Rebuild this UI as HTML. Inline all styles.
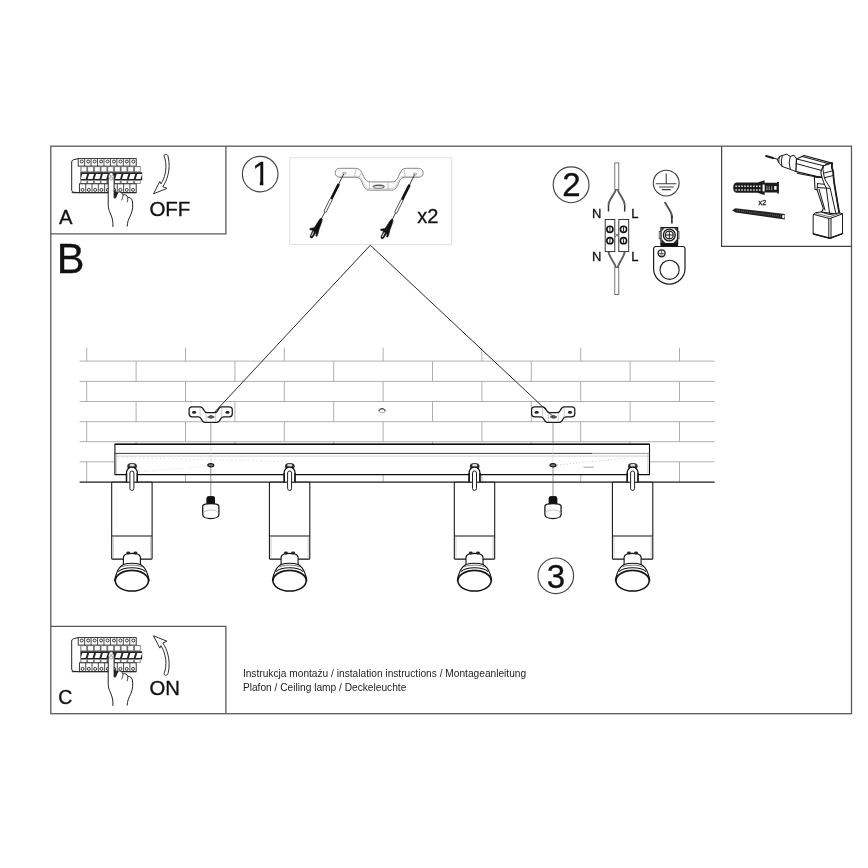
<!DOCTYPE html>
<html lang="pl">
<head>
<meta charset="utf-8">
<title>Instrukcja montażu</title>
<style>
html,body{margin:0;padding:0;background:#fff;}
body{width:868px;height:868px;overflow:hidden;font-family:"Liberation Sans",Arial,sans-serif;}
svg{display:block;will-change:transform;}
</style>
</head>
<body>
<svg width="868" height="868" viewBox="0 0 868 868">
<rect width="868" height="868" fill="#fff"/>
<defs><clipPath id="c1"><path d="M250 158H263.35V188H259.85V170.5H250Z"/></clipPath></defs>
<g fill="none" stroke="#5a5a5a" stroke-width="1.3">
<rect x="50.8" y="146.2" width="800.7" height="567.5"/>
<path d="M50.8 233.8H225.9V146.2"/>
<path d="M50.8 626.3H225.9V713.7"/>
</g>
<path d="M721.6 146.2V246.3H851.5" fill="none" stroke="#444" stroke-width="1.2"/>
<rect x="289.7" y="157.8" width="161.9" height="86.6" fill="none" stroke="#e0e0e0" stroke-width="1"/>
<g fill="none" stroke="#a2a2a2" stroke-width="0.85">
<path d="M79.6 361.1H714.6M79.6 381.4H714.6M79.6 401.5H714.6M79.6 421.7H714.6M79.6 441.7H714.6M79.6 461.8H714.6M86.7 347.7V361.1M185.5 347.7V361.1M284.3 347.7V361.1M383.1 347.7V361.1M481.9 347.7V361.1M580.7 347.7V361.1M679.5 347.7V361.1M136.1 361.1V381.4M234.9 361.1V381.4M333.7 361.1V381.4M432.5 361.1V381.4M531.3 361.1V381.4M630.1 361.1V381.4M86.7 381.4V401.5M185.5 381.4V401.5M284.3 381.4V401.5M383.1 381.4V401.5M481.9 381.4V401.5M580.7 381.4V401.5M679.5 381.4V401.5M136.1 401.5V421.7M234.9 401.5V421.7M333.7 401.5V421.7M432.5 401.5V421.7M531.3 401.5V421.7M630.1 401.5V421.7M86.7 421.7V441.7M185.5 421.7V441.7M284.3 421.7V441.7M383.1 421.7V441.7M481.9 421.7V441.7M580.7 421.7V441.7M679.5 421.7V441.7M136.1 441.7V461.8M234.9 441.7V461.8M333.7 441.7V461.8M432.5 441.7V461.8M531.3 441.7V461.8M630.1 441.7V461.8M86.7 461.8V482.0M185.5 461.8V482.0M284.3 461.8V482.0M383.1 461.8V482.0M481.9 461.8V482.0M580.7 461.8V482.0M679.5 461.8V482.0"/>
</g>
<path d="M79.6 482.2H714.6" stroke="#1c1c1c" stroke-width="1.2" fill="none"/>
<ellipse cx="382" cy="410.7" rx="3.3" ry="2.0" fill="#fff" stroke="#888" stroke-width="0.7"/>
<path d="M378.8 411.0C379.6 408.0 384.4 408.0 385.2 411.0" fill="none" stroke="#222" stroke-width="1.0"/>
<g transform="translate(210.7 0)">
<path d="M-18.6 406.8H-10.6C-8.3 406.8 -7.6 408.4 -6.8 410.2C-6 412 -5.2 412.6 -3.6 412.6H4C5.6 412.6 6.4 412 7.2 410.2C8 408.4 8.7 406.8 11 406.8H18.6A3 3 0 0 1 21.6 409.8V413.8A3 3 0 0 1 18.6 416.8H12.6C10.9 416.8 10.4 417.6 9.7 419.2C9 420.8 8.2 422.3 6.2 422.3H-5.8C-7.8 422.3 -8.6 420.8 -9.3 419.2C-10 417.6 -10.5 416.8 -12.2 416.8H-18.6A3 3 0 0 1 -21.6 413.8V409.8A3 3 0 0 1 -18.6 406.8Z" fill="#fff" stroke="#1a1a1a" stroke-width="1.25"/>
<ellipse cx="-16.6" cy="412.4" rx="2.1" ry="1.3" fill="#222"/>
<ellipse cx="16.8" cy="412.4" rx="2.1" ry="1.3" fill="#222"/>
<path d="M-3.2 417L0.4 415.2L3.8 417L0.4 418.6Z" fill="#555" stroke="#222" stroke-width="0.5"/>
<path d="M-4.6 413V421.8M5 413V421.8M-10.6 407.2V416.6M11 407.2V416.6" stroke="#999" stroke-width="0.5" fill="none"/>
</g>
<g transform="translate(553.2 0)">
<path d="M-18.6 406.8H-10.6C-8.3 406.8 -7.6 408.4 -6.8 410.2C-6 412 -5.2 412.6 -3.6 412.6H4C5.6 412.6 6.4 412 7.2 410.2C8 408.4 8.7 406.8 11 406.8H18.6A3 3 0 0 1 21.6 409.8V413.8A3 3 0 0 1 18.6 416.8H12.6C10.9 416.8 10.4 417.6 9.7 419.2C9 420.8 8.2 422.3 6.2 422.3H-5.8C-7.8 422.3 -8.6 420.8 -9.3 419.2C-10 417.6 -10.5 416.8 -12.2 416.8H-18.6A3 3 0 0 1 -21.6 413.8V409.8A3 3 0 0 1 -18.6 406.8Z" fill="#fff" stroke="#1a1a1a" stroke-width="1.25"/>
<ellipse cx="-16.6" cy="412.4" rx="2.1" ry="1.3" fill="#222"/>
<ellipse cx="16.8" cy="412.4" rx="2.1" ry="1.3" fill="#222"/>
<path d="M-3.2 417L0.4 415.2L3.8 417L0.4 418.6Z" fill="#555" stroke="#222" stroke-width="0.5"/>
<path d="M-4.6 413V421.8M5 413V421.8M-10.6 407.2V416.6M11 407.2V416.6" stroke="#999" stroke-width="0.5" fill="none"/>
</g>
<path d="M214.6 412.2L370.3 245.2L553.0 416.4" fill="none" stroke="#2a2a2a" stroke-width="1.0"/>
<rect x="114.9" y="444.3" width="534.6" height="30.2" rx="0.8" fill="#fff" stroke="#111" stroke-width="1.1"/>
<path d="M114.6 444.3H649.8" stroke="#111" stroke-width="1.55" fill="none"/>
<path d="M114.6 474.5H649.8" stroke="#111" stroke-width="1.25" fill="none"/>
<path d="M115 453.4H592.5" stroke="#3a3a3a" stroke-width="1.0" fill="none"/>
<path d="M592.5 453.4H649.4" stroke="#8c8c8c" stroke-width="0.9" fill="none"/>
<path d="M583.5 467.2H594" stroke="#9a9a9a" stroke-width="0.9" fill="none"/>
<path d="M557 465.0L630 457.7" stroke="#b4b4b4" stroke-width="0.8" stroke-dasharray="1 2.2" fill="none"/>
<path d="M115.4 456.1H649" stroke="#c0c0c0" stroke-width="0.7" fill="none"/>
<path d="M116.6 454V474M647.9 454V474" stroke="#bbb" stroke-width="0.7" fill="none"/>
<path d="M118 457.6L290 461.6" stroke="#c4c4c4" stroke-width="0.7" stroke-dasharray="1 3.2" fill="none"/>
<path d="M139 472.0L209 466.2" stroke="#d2d2d2" stroke-width="0.7" stroke-dasharray="1 1.6" fill="none"/>
<g transform="translate(210.8 0)">
<path d="M0 422.4V444" stroke="#777" stroke-width="0.7" fill="none"/>
<path d="M0 445V464" stroke="#ccc" stroke-width="0.6" fill="none"/>
<path d="M0 466V496.8" stroke="#555" stroke-width="0.65" fill="none"/>
<ellipse cx="0" cy="465.2" rx="3.0" ry="1.6" fill="#777" stroke="#1a1a1a" stroke-width="1.2"/>
<path d="M-4.2 503.8V498.6Q-4.2 496.2 -1.8 496.2H1.8Q4.2 496.2 4.2 498.6V503.8Z" fill="#111"/>
<path d="M-8.1 506.2V514.4C-8.1 520 8.1 520 8.1 514.4V506.2C8.1 502.6 -8.1 502.6 -8.1 506.2Z" fill="#fff" stroke="#111" stroke-width="1.25"/>
<path d="M-7.6 513.6C-7.6 508.8 7.6 508.8 7.6 513.6" fill="none" stroke="#aaa" stroke-width="0.7"/>
<path d="M-4.2 503.6V498.6Q-4.2 496.2 -1.8 496.2H1.8Q4.2 496.2 4.2 498.6V503.6Z" fill="#111"/>
</g>
<g transform="translate(553.0 0)">
<path d="M0 422.4V444" stroke="#777" stroke-width="0.7" fill="none"/>
<path d="M0 445V464" stroke="#ccc" stroke-width="0.6" fill="none"/>
<path d="M0 466V496.8" stroke="#555" stroke-width="0.65" fill="none"/>
<ellipse cx="0" cy="465.2" rx="3.0" ry="1.6" fill="#777" stroke="#1a1a1a" stroke-width="1.2"/>
<path d="M-4.2 503.8V498.6Q-4.2 496.2 -1.8 496.2H1.8Q4.2 496.2 4.2 498.6V503.8Z" fill="#111"/>
<path d="M-8.1 506.2V514.4C-8.1 520 8.1 520 8.1 514.4V506.2C8.1 502.6 -8.1 502.6 -8.1 506.2Z" fill="#fff" stroke="#111" stroke-width="1.25"/>
<path d="M-7.6 513.6C-7.6 508.8 7.6 508.8 7.6 513.6" fill="none" stroke="#aaa" stroke-width="0.7"/>
<path d="M-4.2 503.6V498.6Q-4.2 496.2 -1.8 496.2H1.8Q4.2 496.2 4.2 498.6V503.6Z" fill="#111"/>
</g>
<g transform="translate(131.9 0)">
<ellipse cx="0.2" cy="466.3" rx="4.8" ry="3.3" fill="#2c2c2c"/>
<ellipse cx="0.2" cy="465.3" rx="2.7" ry="1.5" fill="#d8d8d8"/>
<path d="M-5.4 481.8V472.6A5.4 5.4 0 0 1 5.4 472.6V481.8" fill="#fff" stroke="#111" stroke-width="1.25"/>
<rect x="-20.2" y="482.2" width="40.4" height="76.9" rx="0.6" fill="#fff" stroke="#111" stroke-width="1.05"/>
<path d="M-20.2 536.0H20.2" stroke="#111" stroke-width="1" fill="none"/>
<path d="M-18.6 536.6V558.4M18.6 536.6V558.4" stroke="#bdbdbd" stroke-width="0.8" fill="none"/>
<path d="M-2.0 488.4V473.0A2.0 2.0 0 0 1 2.0 473.0V488.4A2.0 2.0 0 0 1 -2.0 488.4Z" fill="#fff" stroke="#222" stroke-width="1.0"/>
<path d="M-5.4 473V482.4M5.4 473V482.4" stroke="#111" stroke-width="1.25" fill="none"/>
<path d="M-8.5 566V557.6C-8.5 555.4 -6.8 554.4 -5.4 554.0C-2.6 553.3 2.6 553.3 5.4 554.0C6.8 554.4 8.5 555.4 8.5 557.6V566Z" fill="#fff" stroke="#111" stroke-width="1.1"/>
<ellipse cx="-3.7" cy="553.0" rx="2.0" ry="1.4" fill="#222"/>
<ellipse cx="3.5" cy="553.0" rx="2.0" ry="1.4" fill="#222"/>
<path d="M-8.5 564.4C-11.5 566 -14 569.5 -15.2 573C-16.2 575.5 -17 578 -17.2 580.8H17.2C17 578 16.2 575.5 15.2 573C14 569.5 11.5 566 8.5 564.4C4 562.9 -4 562.9 -8.5 564.4Z" fill="#fff" stroke="#111" stroke-width="1.1"/>
<path d="M-10.2 566.8C-5 564.6 5 564.6 10.2 566.8" fill="none" stroke="#444" stroke-width="0.7"/>
<path d="M-13.6 571.6C-8 566.4 8 566.4 13.6 571.6" fill="none" stroke="#111" stroke-width="1.1"/>
<path d="M-17.2 580C-15.2 566.6 15.2 566.6 17.2 580C14.4 568.9 -14.4 568.9 -17.2 580Z" fill="#1c1c1c" stroke="#1c1c1c" stroke-width="0.4"/>
<ellipse cx="0" cy="580.8" rx="16.6" ry="10.3" fill="#fff" stroke="#111" stroke-width="1.5"/>
</g>
<g transform="translate(289.6 0)">
<ellipse cx="0.2" cy="466.3" rx="4.8" ry="3.3" fill="#2c2c2c"/>
<ellipse cx="0.2" cy="465.3" rx="2.7" ry="1.5" fill="#d8d8d8"/>
<path d="M-5.4 481.8V472.6A5.4 5.4 0 0 1 5.4 472.6V481.8" fill="#fff" stroke="#111" stroke-width="1.25"/>
<rect x="-20.2" y="482.2" width="40.4" height="76.9" rx="0.6" fill="#fff" stroke="#111" stroke-width="1.05"/>
<path d="M-20.2 536.0H20.2" stroke="#111" stroke-width="1" fill="none"/>
<path d="M-18.6 536.6V558.4M18.6 536.6V558.4" stroke="#bdbdbd" stroke-width="0.8" fill="none"/>
<path d="M-2.0 488.4V473.0A2.0 2.0 0 0 1 2.0 473.0V488.4A2.0 2.0 0 0 1 -2.0 488.4Z" fill="#fff" stroke="#222" stroke-width="1.0"/>
<path d="M-5.4 473V482.4M5.4 473V482.4" stroke="#111" stroke-width="1.25" fill="none"/>
<path d="M-8.5 566V557.6C-8.5 555.4 -6.8 554.4 -5.4 554.0C-2.6 553.3 2.6 553.3 5.4 554.0C6.8 554.4 8.5 555.4 8.5 557.6V566Z" fill="#fff" stroke="#111" stroke-width="1.1"/>
<ellipse cx="-3.7" cy="553.0" rx="2.0" ry="1.4" fill="#222"/>
<ellipse cx="3.5" cy="553.0" rx="2.0" ry="1.4" fill="#222"/>
<path d="M-8.5 564.4C-11.5 566 -14 569.5 -15.2 573C-16.2 575.5 -17 578 -17.2 580.8H17.2C17 578 16.2 575.5 15.2 573C14 569.5 11.5 566 8.5 564.4C4 562.9 -4 562.9 -8.5 564.4Z" fill="#fff" stroke="#111" stroke-width="1.1"/>
<path d="M-10.2 566.8C-5 564.6 5 564.6 10.2 566.8" fill="none" stroke="#444" stroke-width="0.7"/>
<path d="M-13.6 571.6C-8 566.4 8 566.4 13.6 571.6" fill="none" stroke="#111" stroke-width="1.1"/>
<path d="M-17.2 580C-15.2 566.6 15.2 566.6 17.2 580C14.4 568.9 -14.4 568.9 -17.2 580Z" fill="#1c1c1c" stroke="#1c1c1c" stroke-width="0.4"/>
<ellipse cx="0" cy="580.8" rx="16.6" ry="10.3" fill="#fff" stroke="#111" stroke-width="1.5"/>
</g>
<g transform="translate(474.5 0)">
<ellipse cx="0.2" cy="466.3" rx="4.8" ry="3.3" fill="#2c2c2c"/>
<ellipse cx="0.2" cy="465.3" rx="2.7" ry="1.5" fill="#d8d8d8"/>
<path d="M-5.4 481.8V472.6A5.4 5.4 0 0 1 5.4 472.6V481.8" fill="#fff" stroke="#111" stroke-width="1.25"/>
<rect x="-20.2" y="482.2" width="40.4" height="76.9" rx="0.6" fill="#fff" stroke="#111" stroke-width="1.05"/>
<path d="M-20.2 536.0H20.2" stroke="#111" stroke-width="1" fill="none"/>
<path d="M-18.6 536.6V558.4M18.6 536.6V558.4" stroke="#bdbdbd" stroke-width="0.8" fill="none"/>
<path d="M-2.0 488.4V473.0A2.0 2.0 0 0 1 2.0 473.0V488.4A2.0 2.0 0 0 1 -2.0 488.4Z" fill="#fff" stroke="#222" stroke-width="1.0"/>
<path d="M-5.4 473V482.4M5.4 473V482.4" stroke="#111" stroke-width="1.25" fill="none"/>
<path d="M-8.5 566V557.6C-8.5 555.4 -6.8 554.4 -5.4 554.0C-2.6 553.3 2.6 553.3 5.4 554.0C6.8 554.4 8.5 555.4 8.5 557.6V566Z" fill="#fff" stroke="#111" stroke-width="1.1"/>
<ellipse cx="-3.7" cy="553.0" rx="2.0" ry="1.4" fill="#222"/>
<ellipse cx="3.5" cy="553.0" rx="2.0" ry="1.4" fill="#222"/>
<path d="M-8.5 564.4C-11.5 566 -14 569.5 -15.2 573C-16.2 575.5 -17 578 -17.2 580.8H17.2C17 578 16.2 575.5 15.2 573C14 569.5 11.5 566 8.5 564.4C4 562.9 -4 562.9 -8.5 564.4Z" fill="#fff" stroke="#111" stroke-width="1.1"/>
<path d="M-10.2 566.8C-5 564.6 5 564.6 10.2 566.8" fill="none" stroke="#444" stroke-width="0.7"/>
<path d="M-13.6 571.6C-8 566.4 8 566.4 13.6 571.6" fill="none" stroke="#111" stroke-width="1.1"/>
<path d="M-17.2 580C-15.2 566.6 15.2 566.6 17.2 580C14.4 568.9 -14.4 568.9 -17.2 580Z" fill="#1c1c1c" stroke="#1c1c1c" stroke-width="0.4"/>
<ellipse cx="0" cy="580.8" rx="16.6" ry="10.3" fill="#fff" stroke="#111" stroke-width="1.5"/>
</g>
<g transform="translate(632.6 0)">
<ellipse cx="0.2" cy="466.3" rx="4.8" ry="3.3" fill="#2c2c2c"/>
<ellipse cx="0.2" cy="465.3" rx="2.7" ry="1.5" fill="#d8d8d8"/>
<path d="M-5.4 481.8V472.6A5.4 5.4 0 0 1 5.4 472.6V481.8" fill="#fff" stroke="#111" stroke-width="1.25"/>
<rect x="-20.2" y="482.2" width="40.4" height="76.9" rx="0.6" fill="#fff" stroke="#111" stroke-width="1.05"/>
<path d="M-20.2 536.0H20.2" stroke="#111" stroke-width="1" fill="none"/>
<path d="M-18.6 536.6V558.4M18.6 536.6V558.4" stroke="#bdbdbd" stroke-width="0.8" fill="none"/>
<path d="M-2.0 488.4V473.0A2.0 2.0 0 0 1 2.0 473.0V488.4A2.0 2.0 0 0 1 -2.0 488.4Z" fill="#fff" stroke="#222" stroke-width="1.0"/>
<path d="M-5.4 473V482.4M5.4 473V482.4" stroke="#111" stroke-width="1.25" fill="none"/>
<path d="M-8.5 566V557.6C-8.5 555.4 -6.8 554.4 -5.4 554.0C-2.6 553.3 2.6 553.3 5.4 554.0C6.8 554.4 8.5 555.4 8.5 557.6V566Z" fill="#fff" stroke="#111" stroke-width="1.1"/>
<ellipse cx="-3.7" cy="553.0" rx="2.0" ry="1.4" fill="#222"/>
<ellipse cx="3.5" cy="553.0" rx="2.0" ry="1.4" fill="#222"/>
<path d="M-8.5 564.4C-11.5 566 -14 569.5 -15.2 573C-16.2 575.5 -17 578 -17.2 580.8H17.2C17 578 16.2 575.5 15.2 573C14 569.5 11.5 566 8.5 564.4C4 562.9 -4 562.9 -8.5 564.4Z" fill="#fff" stroke="#111" stroke-width="1.1"/>
<path d="M-10.2 566.8C-5 564.6 5 564.6 10.2 566.8" fill="none" stroke="#444" stroke-width="0.7"/>
<path d="M-13.6 571.6C-8 566.4 8 566.4 13.6 571.6" fill="none" stroke="#111" stroke-width="1.1"/>
<path d="M-17.2 580C-15.2 566.6 15.2 566.6 17.2 580C14.4 568.9 -14.4 568.9 -17.2 580Z" fill="#1c1c1c" stroke="#1c1c1c" stroke-width="0.4"/>
<ellipse cx="0" cy="580.8" rx="16.6" ry="10.3" fill="#fff" stroke="#111" stroke-width="1.5"/>
</g>
<g transform="translate(0 0.6)">
<path d="M78.2 158.0L73.4 159.2Q71.7 159.7 71.7 161.4V189.6Q71.7 191.2 73.4 191.6L78.6 192.1" fill="#fff" stroke="#222" stroke-width="1.0"/>
<rect x="78.2" y="158.0" width="58.0" height="7.5" fill="#fff" stroke="#222" stroke-width="0.9"/>
<path d="M84.64 158V165.5M91.09 158V165.5M97.53 158V165.5M103.98 158V165.5M110.42 158V165.5M116.87 158V165.5M123.31 158V165.5M129.76 158V165.5" stroke="#222" stroke-width="0.8" fill="none"/>
<circle cx="81.74" cy="160.9" r="1.5" fill="#fff" stroke="#222" stroke-width="0.9"/>
<circle cx="88.19" cy="160.9" r="1.5" fill="#fff" stroke="#222" stroke-width="0.9"/>
<circle cx="94.63" cy="160.9" r="1.5" fill="#fff" stroke="#222" stroke-width="0.9"/>
<circle cx="101.08" cy="160.9" r="1.5" fill="#fff" stroke="#222" stroke-width="0.9"/>
<circle cx="107.52" cy="160.9" r="1.5" fill="#fff" stroke="#222" stroke-width="0.9"/>
<circle cx="113.97" cy="160.9" r="1.5" fill="#fff" stroke="#222" stroke-width="0.9"/>
<circle cx="120.41" cy="160.9" r="1.5" fill="#fff" stroke="#222" stroke-width="0.9"/>
<circle cx="126.86" cy="160.9" r="1.5" fill="#fff" stroke="#222" stroke-width="0.9"/>
<circle cx="133.30" cy="160.9" r="1.5" fill="#fff" stroke="#222" stroke-width="0.9"/>
<rect x="80.4" y="165.5" width="60.2" height="6.4" fill="#6e6e6e"/>
<rect x="81.40" y="166.5" width="4.99" height="4.3" fill="#fff"/>
<rect x="88.09" y="166.5" width="4.99" height="4.3" fill="#fff"/>
<rect x="94.78" y="166.5" width="4.99" height="4.3" fill="#fff"/>
<rect x="101.47" y="166.5" width="4.99" height="4.3" fill="#fff"/>
<rect x="108.16" y="166.5" width="4.99" height="4.3" fill="#fff"/>
<rect x="114.84" y="166.5" width="4.99" height="4.3" fill="#fff"/>
<rect x="121.53" y="166.5" width="4.99" height="4.3" fill="#fff"/>
<rect x="128.22" y="166.5" width="4.99" height="4.3" fill="#fff"/>
<rect x="134.91" y="166.5" width="4.99" height="4.3" fill="#fff"/>
<rect x="80.4" y="171.7" width="61.8" height="8.0" fill="#242424"/>
<path d="M82.30 173.3H87.17L85.67 178.3H80.80Z" fill="#fff"/>
<path d="M89.17 173.3H94.03L92.53 178.3H87.67Z" fill="#fff"/>
<path d="M96.03 173.3H100.90L99.40 178.3H94.53Z" fill="#fff"/>
<path d="M102.90 173.3H107.77L106.27 178.3H101.40Z" fill="#fff"/>
<path d="M116.63 173.3H121.50L120.00 178.3H115.13Z" fill="#fff"/>
<path d="M123.50 173.3H128.37L126.87 178.3H122.00Z" fill="#fff"/>
<path d="M130.37 173.3H135.23L133.73 178.3H128.87Z" fill="#fff"/>
<path d="M137.23 173.3H142.10L140.60 178.3H135.73Z" fill="#fff"/>
<rect x="80.4" y="179.8" width="60.2" height="3.4" fill="#6e6e6e"/>
<rect x="81.40" y="180.4" width="4.99" height="2.1" fill="#fff"/>
<rect x="88.09" y="180.4" width="4.99" height="2.1" fill="#fff"/>
<rect x="94.78" y="180.4" width="4.99" height="2.1" fill="#fff"/>
<rect x="101.47" y="180.4" width="4.99" height="2.1" fill="#fff"/>
<rect x="108.16" y="180.4" width="4.99" height="2.1" fill="#fff"/>
<rect x="114.84" y="180.4" width="4.99" height="2.1" fill="#fff"/>
<rect x="121.53" y="180.4" width="4.99" height="2.1" fill="#fff"/>
<rect x="128.22" y="180.4" width="4.99" height="2.1" fill="#fff"/>
<rect x="134.91" y="180.4" width="4.99" height="2.1" fill="#fff"/>
<rect x="79.4" y="183.2" width="56.8" height="8.9" fill="#fff" stroke="#222" stroke-width="0.9"/>
<path d="M85.71 183.2V192.1M92.02 183.2V192.1M98.33 183.2V192.1M104.64 183.2V192.1M110.96 183.2V192.1M117.27 183.2V192.1M123.58 183.2V192.1M129.89 183.2V192.1" stroke="#222" stroke-width="0.8" fill="none"/>
<circle cx="82.56" cy="189.3" r="1.5" fill="#fff" stroke="#222" stroke-width="0.9"/>
<circle cx="88.87" cy="189.3" r="1.5" fill="#fff" stroke="#222" stroke-width="0.9"/>
<circle cx="95.18" cy="189.3" r="1.5" fill="#fff" stroke="#222" stroke-width="0.9"/>
<circle cx="101.49" cy="189.3" r="1.5" fill="#fff" stroke="#222" stroke-width="0.9"/>
<circle cx="107.80" cy="189.3" r="1.5" fill="#fff" stroke="#222" stroke-width="0.9"/>
<circle cx="114.11" cy="189.3" r="1.5" fill="#fff" stroke="#222" stroke-width="0.9"/>
<circle cx="120.42" cy="189.3" r="1.5" fill="#fff" stroke="#222" stroke-width="0.9"/>
<circle cx="126.73" cy="189.3" r="1.5" fill="#fff" stroke="#222" stroke-width="0.9"/>
<circle cx="133.04" cy="189.3" r="1.5" fill="#fff" stroke="#222" stroke-width="0.9"/>
<path d="M71.7 192.1H136.2" stroke="#222" stroke-width="1" fill="none"/>
<path d="M112.9 226.3C113.2 221 112.4 217.6 110.6 213.4C108.9 209.6 108.2 207.6 108.2 203.6V175.6C108.2 171.2 114.1 171.2 114.1 175.6V197.2L115.4 197.6L117.9 191.8C119.6 190.6 122.2 191.8 123.1 194.4C125 193.6 127.2 194.6 127.7 196.9C129.8 196.4 131.8 197.8 132.3 200.2C133.2 204.6 132.8 209.4 130.8 214C128.6 218.8 127.2 221.6 127.2 225.9" fill="#fff" stroke="none"/>
<path d="M112.9 226.3C113.2 221 112.4 217.6 110.6 213.4C108.9 209.6 108.2 207.6 108.2 203.6V175.6C108.2 171.2 114.1 171.2 114.1 175.6V197.2L115.4 197.6L117.9 191.8C119.6 190.6 122.2 191.8 123.1 194.4C125 193.6 127.2 194.6 127.7 196.9C129.8 196.4 131.8 197.8 132.3 200.2C133.2 204.6 132.8 209.4 130.8 214C128.6 218.8 127.2 221.6 127.2 225.9" fill="none" stroke="#222" stroke-width="1.0"/>
<path d="M114.1 189.6V197.2L115.4 197.6L117.9 191.8Z" fill="#222"/>
<path d="M123.1 194.4C122.9 196.4 122.3 198.2 121.6 199.8M127.7 196.9C127.9 198.6 127.7 200.2 127.2 201.6" fill="none" stroke="#222" stroke-width="0.8"/>
<circle cx="111.2" cy="173.8" r="1.6" fill="#fff" stroke="#555" stroke-width="0.5"/>
<circle cx="111.2" cy="177.9" r="1.6" fill="#fff" stroke="#555" stroke-width="0.5"/>
</g>
<g transform="translate(0 479.6)">
<path d="M78.2 158.0L73.4 159.2Q71.7 159.7 71.7 161.4V189.6Q71.7 191.2 73.4 191.6L78.6 192.1" fill="#fff" stroke="#222" stroke-width="1.0"/>
<rect x="78.2" y="158.0" width="58.0" height="7.5" fill="#fff" stroke="#222" stroke-width="0.9"/>
<path d="M84.64 158V165.5M91.09 158V165.5M97.53 158V165.5M103.98 158V165.5M110.42 158V165.5M116.87 158V165.5M123.31 158V165.5M129.76 158V165.5" stroke="#222" stroke-width="0.8" fill="none"/>
<circle cx="81.74" cy="160.9" r="1.5" fill="#fff" stroke="#222" stroke-width="0.9"/>
<circle cx="88.19" cy="160.9" r="1.5" fill="#fff" stroke="#222" stroke-width="0.9"/>
<circle cx="94.63" cy="160.9" r="1.5" fill="#fff" stroke="#222" stroke-width="0.9"/>
<circle cx="101.08" cy="160.9" r="1.5" fill="#fff" stroke="#222" stroke-width="0.9"/>
<circle cx="107.52" cy="160.9" r="1.5" fill="#fff" stroke="#222" stroke-width="0.9"/>
<circle cx="113.97" cy="160.9" r="1.5" fill="#fff" stroke="#222" stroke-width="0.9"/>
<circle cx="120.41" cy="160.9" r="1.5" fill="#fff" stroke="#222" stroke-width="0.9"/>
<circle cx="126.86" cy="160.9" r="1.5" fill="#fff" stroke="#222" stroke-width="0.9"/>
<circle cx="133.30" cy="160.9" r="1.5" fill="#fff" stroke="#222" stroke-width="0.9"/>
<rect x="80.4" y="165.5" width="60.2" height="6.4" fill="#6e6e6e"/>
<rect x="81.40" y="166.5" width="4.99" height="4.3" fill="#fff"/>
<rect x="88.09" y="166.5" width="4.99" height="4.3" fill="#fff"/>
<rect x="94.78" y="166.5" width="4.99" height="4.3" fill="#fff"/>
<rect x="101.47" y="166.5" width="4.99" height="4.3" fill="#fff"/>
<rect x="108.16" y="166.5" width="4.99" height="4.3" fill="#fff"/>
<rect x="114.84" y="166.5" width="4.99" height="4.3" fill="#fff"/>
<rect x="121.53" y="166.5" width="4.99" height="4.3" fill="#fff"/>
<rect x="128.22" y="166.5" width="4.99" height="4.3" fill="#fff"/>
<rect x="134.91" y="166.5" width="4.99" height="4.3" fill="#fff"/>
<rect x="80.4" y="171.7" width="61.8" height="8.0" fill="#242424"/>
<path d="M82.30 173.3H87.17L85.67 178.3H80.80Z" fill="#fff"/>
<path d="M89.17 173.3H94.03L92.53 178.3H87.67Z" fill="#fff"/>
<path d="M96.03 173.3H100.90L99.40 178.3H94.53Z" fill="#fff"/>
<path d="M102.90 173.3H107.77L106.27 178.3H101.40Z" fill="#fff"/>
<path d="M116.63 173.3H121.50L120.00 178.3H115.13Z" fill="#fff"/>
<path d="M123.50 173.3H128.37L126.87 178.3H122.00Z" fill="#fff"/>
<path d="M130.37 173.3H135.23L133.73 178.3H128.87Z" fill="#fff"/>
<path d="M137.23 173.3H142.10L140.60 178.3H135.73Z" fill="#fff"/>
<rect x="80.4" y="179.8" width="60.2" height="3.4" fill="#6e6e6e"/>
<rect x="81.40" y="180.4" width="4.99" height="2.1" fill="#fff"/>
<rect x="88.09" y="180.4" width="4.99" height="2.1" fill="#fff"/>
<rect x="94.78" y="180.4" width="4.99" height="2.1" fill="#fff"/>
<rect x="101.47" y="180.4" width="4.99" height="2.1" fill="#fff"/>
<rect x="108.16" y="180.4" width="4.99" height="2.1" fill="#fff"/>
<rect x="114.84" y="180.4" width="4.99" height="2.1" fill="#fff"/>
<rect x="121.53" y="180.4" width="4.99" height="2.1" fill="#fff"/>
<rect x="128.22" y="180.4" width="4.99" height="2.1" fill="#fff"/>
<rect x="134.91" y="180.4" width="4.99" height="2.1" fill="#fff"/>
<rect x="79.4" y="183.2" width="56.8" height="8.9" fill="#fff" stroke="#222" stroke-width="0.9"/>
<path d="M85.71 183.2V192.1M92.02 183.2V192.1M98.33 183.2V192.1M104.64 183.2V192.1M110.96 183.2V192.1M117.27 183.2V192.1M123.58 183.2V192.1M129.89 183.2V192.1" stroke="#222" stroke-width="0.8" fill="none"/>
<circle cx="82.56" cy="189.3" r="1.5" fill="#fff" stroke="#222" stroke-width="0.9"/>
<circle cx="88.87" cy="189.3" r="1.5" fill="#fff" stroke="#222" stroke-width="0.9"/>
<circle cx="95.18" cy="189.3" r="1.5" fill="#fff" stroke="#222" stroke-width="0.9"/>
<circle cx="101.49" cy="189.3" r="1.5" fill="#fff" stroke="#222" stroke-width="0.9"/>
<circle cx="107.80" cy="189.3" r="1.5" fill="#fff" stroke="#222" stroke-width="0.9"/>
<circle cx="114.11" cy="189.3" r="1.5" fill="#fff" stroke="#222" stroke-width="0.9"/>
<circle cx="120.42" cy="189.3" r="1.5" fill="#fff" stroke="#222" stroke-width="0.9"/>
<circle cx="126.73" cy="189.3" r="1.5" fill="#fff" stroke="#222" stroke-width="0.9"/>
<circle cx="133.04" cy="189.3" r="1.5" fill="#fff" stroke="#222" stroke-width="0.9"/>
<path d="M71.7 192.1H136.2" stroke="#222" stroke-width="1" fill="none"/>
<path d="M112.9 226.3C113.2 221 112.4 217.6 110.6 213.4C108.9 209.6 108.2 207.6 108.2 203.6V175.6C108.2 171.2 114.1 171.2 114.1 175.6V197.2L115.4 197.6L117.9 191.8C119.6 190.6 122.2 191.8 123.1 194.4C125 193.6 127.2 194.6 127.7 196.9C129.8 196.4 131.8 197.8 132.3 200.2C133.2 204.6 132.8 209.4 130.8 214C128.6 218.8 127.2 221.6 127.2 225.9" fill="#fff" stroke="none"/>
<path d="M112.9 226.3C113.2 221 112.4 217.6 110.6 213.4C108.9 209.6 108.2 207.6 108.2 203.6V175.6C108.2 171.2 114.1 171.2 114.1 175.6V197.2L115.4 197.6L117.9 191.8C119.6 190.6 122.2 191.8 123.1 194.4C125 193.6 127.2 194.6 127.7 196.9C129.8 196.4 131.8 197.8 132.3 200.2C133.2 204.6 132.8 209.4 130.8 214C128.6 218.8 127.2 221.6 127.2 225.9" fill="none" stroke="#222" stroke-width="1.0"/>
<path d="M114.1 189.6V197.2L115.4 197.6L117.9 191.8Z" fill="#222"/>
<path d="M123.1 194.4C122.9 196.4 122.3 198.2 121.6 199.8M127.7 196.9C127.9 198.6 127.7 200.2 127.2 201.6" fill="none" stroke="#222" stroke-width="0.8"/>
<circle cx="111.2" cy="173.8" r="1.6" fill="#fff" stroke="#555" stroke-width="0.5"/>
<circle cx="111.2" cy="177.9" r="1.6" fill="#fff" stroke="#555" stroke-width="0.5"/>
</g>
<path d="M165.3 154.3C167 154.1 167.9 155.2 168.2 156.8C169.6 163.4 169.4 169.6 167.8 175.4C166.8 179.4 165.2 183 162.8 186.6L166.9 188.4L153.5 193.8L159.8 181.5L161 183.9C163 180.6 164.2 177.6 165 174.2C166.3 168.8 166.3 163.6 164.9 158.6C164.4 156.8 163.2 154.8 165.3 154.3Z" fill="#fff" stroke="#2e2e2e" stroke-width="1.0" stroke-linejoin="miter"/>
<g transform="translate(0 829.6) scale(1 -1)"><path d="M165.3 154.3C167 154.1 167.9 155.2 168.2 156.8C169.6 163.4 169.4 169.6 167.8 175.4C166.8 179.4 165.2 183 162.8 186.6L166.9 188.4L153.5 193.8L159.8 181.5L161 183.9C163 180.6 164.2 177.6 165 174.2C166.3 168.8 166.3 163.6 164.9 158.6C164.4 156.8 163.2 154.8 165.3 154.3Z" fill="#fff" stroke="#2e2e2e" stroke-width="1.0"/></g>
<g fill="none" stroke="#7c7c7c" stroke-width="0.9" stroke-linejoin="round">
<path d="M339.8 168.3H355.2C359.2 168.3 360.6 170.2 362.2 173.4C364.2 177.6 365.8 181.9 370.4 181.9H392.2C396.6 181.9 397.8 177.8 399.6 174C401.2 170.4 402.6 168.3 406.2 168.3H418.6C421.6 168.3 423.2 170.4 423.2 172.8C423.2 175.2 421.6 177.3 418.6 177.3H405C402 177.3 401 178.4 399.8 180.6C398 184 396.8 190.2 391.6 190.2H369.6C364.4 190.2 363.2 184.6 361.4 181C360 178.4 359 177.3 356.2 177.3H339.8C336.8 177.3 335.2 175.2 335.2 172.8C335.2 170.4 336.8 168.3 339.8 168.3Z" fill="#fbfbfb"/>
<path d="M337 175.8C338 176.6 339 176.4 340.6 176.4H356.6C359.4 176.4 360.8 177.2 362.2 179.8C364 183.2 365.2 188.6 369.8 188.6H391.4C396 188.6 397 183.6 398.8 180C400.2 177.2 401.4 176.4 404.2 176.4H418.2C419.8 176.4 420.8 176.6 421.8 175.8" stroke="#b5b5b5" stroke-width="0.6"/>
<path d="M356.2 168.6L354.4 177.2M361.4 172.2L358.6 178.4M369.4 181.9V190M388.1 181.9V190M397.4 178.4L400.4 172.4M403.8 168.8L405.4 177.2" stroke="#a5a5a5" stroke-width="0.6"/>
<ellipse cx="378.7" cy="186.6" rx="5.8" ry="1.7" stroke="#666"/>
<path d="M373.6 186.2C375.6 185.4 381.8 185.4 383.8 186.2" stroke="#333" stroke-width="0.9"/>
<ellipse cx="344.4" cy="173.2" rx="1.9" ry="0.9" stroke="#777" stroke-width="0.6"/>
<ellipse cx="415.0" cy="174.0" rx="1.9" ry="0.9" stroke="#777" stroke-width="0.6"/>
</g>
<g transform="translate(343.8 173.8) rotate(26.4)">
<path d="M0 0V51" stroke="#222" stroke-width="0.8" fill="none"/>
<rect x="-1.35" y="11.2" width="2.7" height="17" rx="0.8" fill="#111"/>
<rect x="-1.2" y="28" width="2.4" height="14.6" rx="0.6" fill="#fff" stroke="#222" stroke-width="0.7"/>
<path d="M-0.9 50.2C-1.8 53 -1.9 57 -2.2 60.4C-3.2 62.2 -4.4 63.2 -6.0 63.8L-5.6 65.0C-4.4 65.0 -3.4 64.6 -2.6 64.2L-2.4 70.6C-2.2 72 -0.6 72.4 0 71.6L0.4 70.8L1.2 64.6C2 65.8 2.4 66.8 2.6 68.2L3.7 68.0C3.7 65.4 3 62.8 2.4 60.4C2.2 57 1.8 53 0.9 50.2Z" fill="#111" stroke="#111" stroke-width="0.6" stroke-linejoin="round"/>
<path d="M-1.2 65.2V70.2" stroke="#fff" stroke-width="0.9" fill="none"/>
</g>
<g transform="translate(414.6 174.6) rotate(26.4)">
<path d="M0 0V51" stroke="#222" stroke-width="0.8" fill="none"/>
<rect x="-1.35" y="11.2" width="2.7" height="17" rx="0.8" fill="#111"/>
<rect x="-1.2" y="28" width="2.4" height="14.6" rx="0.6" fill="#fff" stroke="#222" stroke-width="0.7"/>
<path d="M-0.9 50.2C-1.8 53 -1.9 57 -2.2 60.4C-3.2 62.2 -4.4 63.2 -6.0 63.8L-5.6 65.0C-4.4 65.0 -3.4 64.6 -2.6 64.2L-2.4 70.6C-2.2 72 -0.6 72.4 0 71.6L0.4 70.8L1.2 64.6C2 65.8 2.4 66.8 2.6 68.2L3.7 68.0C3.7 65.4 3 62.8 2.4 60.4C2.2 57 1.8 53 0.9 50.2Z" fill="#111" stroke="#111" stroke-width="0.6" stroke-linejoin="round"/>
<path d="M-1.2 65.2V70.2" stroke="#fff" stroke-width="0.9" fill="none"/>
</g>
<g fill="#fff" stroke="#555" stroke-width="0.8">
<rect x="614.8" y="162.9" width="4.0" height="26.6"/>
<path d="M616.0 189.5C614.2 195 609.2 199 608.5 204.6" fill="none" stroke="#5e5e5e" stroke-width="1.9"/>
<path d="M617.6 189.5C619.4 195 624.0 199 624.7 204.6" fill="none" stroke="#5e5e5e" stroke-width="1.9"/>
<path d="M608.5 204.4V211.4M624.7 204.4V211.4" fill="none" stroke="#333" stroke-width="1.5"/>
<path d="M608.5 251.6C609.1 257.4 614.4 261.6 616.0 267.6" fill="none" stroke="#5e5e5e" stroke-width="1.9"/>
<path d="M624.7 251.6C624.1 257.4 619.2 261.6 617.6 267.6" fill="none" stroke="#5e5e5e" stroke-width="1.9"/>
<rect x="614.8" y="267.4" width="4.0" height="27.2"/>
</g>
<g fill="#fff" stroke="#222" stroke-width="0.9">
<rect x="605.2" y="219.5" width="9.6" height="32.1"/>
<rect x="618.8" y="219.5" width="9.9" height="32.1"/>
<circle cx="609.9" cy="229.3" r="3.1" stroke-width="1.6" stroke="#111"/>
<path d="M609.9 227.10000000000002V231.5" stroke-width="1.1" stroke="#333"/>
<circle cx="609.9" cy="240.7" r="3.1" stroke-width="1.6" stroke="#111"/>
<path d="M609.9 238.5V242.89999999999998" stroke-width="1.1" stroke="#333"/>
<circle cx="623.5" cy="229.3" r="3.1" stroke-width="1.6" stroke="#111"/>
<path d="M623.5 227.10000000000002V231.5" stroke-width="1.1" stroke="#333"/>
<circle cx="623.5" cy="240.7" r="3.1" stroke-width="1.6" stroke="#111"/>
<path d="M623.5 238.5V242.89999999999998" stroke-width="1.1" stroke="#333"/>
<path d="M615.2 233.4L618.4 236.8M618.4 233.4L615.2 236.8" stroke="#333" stroke-width="0.7"/>
</g>
<g fill="none" stroke="#3c3c3c" stroke-width="1.05">
<circle cx="666.2" cy="183.1" r="12.9" stroke="#3a3a3a" stroke-width="1.1"/>
<path d="M666.2 173.6V183.7M655.8 183.7H676.4M658.9 186.9H673.6M661.8 189.6H670.8"/>
</g>
<path d="M664.7 202.1L670.4 211.6C671.6 213.6 671.9 215 671.9 217V218" fill="none" stroke="#555" stroke-width="1.9"/>
<path d="M671.9 215.5V223.6" stroke="#2a2a2a" stroke-width="1.6" fill="none"/>
<g fill="#fff" stroke="#1a1a1a" stroke-width="0.9">
<rect x="659.2" y="231.4" width="19.8" height="7.4" stroke-width="0.8" stroke="#444"/>
<rect x="661.0" y="227.6" width="16.6" height="16.4" fill="#fff" stroke-width="1.3"/>
<rect x="661.0" y="243.4" width="16.6" height="2.8" fill="#111" stroke="#111"/>
<circle cx="669.3" cy="235.0" r="5.9" stroke-width="1.4" fill="#fff"/>
<circle cx="669.3" cy="235.0" r="3.9" stroke-width="1.2"/>
<path d="M669.3 231.4V238.6M665.7 235H672.9" stroke-width="1.0"/>
<path d="M661.6 228.2H664.6L661.6 231.2ZM677 228.2H674L677 231.2ZM661.6 243.2H665.6L661.6 239.0ZM677 243.2H673L677 239.0Z" fill="#2a2a2a" stroke="none"/>
<path d="M655.8 246.5H682.8A2.2 2.2 0 0 1 685.0 248.7V268.4A15.7 15.7 0 0 1 653.6 268.4V248.7A2.2 2.2 0 0 1 655.8 246.5Z" stroke-width="1.2"/>
<circle cx="669.6" cy="269.8" r="9.6" stroke-width="1.1"/>
<circle cx="661.6" cy="253.3" r="3.5" stroke-width="1.3"/>
<path d="M661.6 250.4V253.4M658.8 253.4H664.4M659.8 255H663.4" stroke-width="0.7"/>
</g>
<g>
<path d="M736.4 182.4H757.6L764.6 180.3V182.7H777V182H778.9V193.4H777V192.4H764.6V195.1L757.6 192.8H736.4C734.4 192.8 733.2 190.4 733.2 187.6C733.2 184.8 734.4 182.4 736.4 182.4Z" fill="#1c1c1c"/>
<path d="M735.40 185.4h1.5v1.5h-1.5zM735.40 189.2h1.5v1.5h-1.5zM738.35 185.4h1.5v1.5h-1.5zM738.35 189.2h1.5v1.5h-1.5zM741.30 185.4h1.5v1.5h-1.5zM741.30 189.2h1.5v1.5h-1.5zM744.25 185.4h1.5v1.5h-1.5zM744.25 189.2h1.5v1.5h-1.5zM747.20 185.4h1.5v1.5h-1.5zM747.20 189.2h1.5v1.5h-1.5zM750.15 185.4h1.5v1.5h-1.5zM750.15 189.2h1.5v1.5h-1.5zM753.10 185.4h1.5v1.5h-1.5zM753.10 189.2h1.5v1.5h-1.5zM756.05 185.4h1.5v1.5h-1.5zM756.05 189.2h1.5v1.5h-1.5zM759.00 185.4h1.5v1.5h-1.5zM759.00 189.2h1.5v1.5h-1.5z" fill="#e8e8e8"/>
<rect x="762.6" y="184.6" width="2.0" height="6.8" fill="#fff"/>
<rect x="774.2" y="186.1" width="2.4" height="3.6" fill="#fff"/>
<path d="M766.2 186.4h1.4v1.2h-1.4zM768.6 186.4h1.4v1.2h-1.4zM771 186.4h1.4v1.2h-1.4zM766.2 188.6h1.4v1.2h-1.4zM768.6 188.6h1.4v1.2h-1.4zM771 188.6h1.4v1.2h-1.4z" fill="#bbb"/>
<path d="M732.1 210.3L735.4 208.3L784.8 213.9V219.4L735.4 212.6Z" fill="#222"/>
<rect x="782.3" y="215.0" width="2.1" height="3.0" fill="#fff" transform="rotate(7 783 216.5)"/>
<path d="M737.00 210.45l0.9 0.1M739.05 210.72l0.9 0.1M741.10 210.99l0.9 0.1M743.15 211.26l0.9 0.1M745.20 211.53l0.9 0.1M747.25 211.80l0.9 0.1M749.30 212.07l0.9 0.1M751.35 212.34l0.9 0.1M753.40 212.61l0.9 0.1M755.45 212.88l0.9 0.1M757.50 213.15l0.9 0.1M759.55 213.42l0.9 0.1M761.60 213.69l0.9 0.1M763.65 213.96l0.9 0.1M765.70 214.23l0.9 0.1M767.75 214.50l0.9 0.1M769.80 214.77l0.9 0.1M771.85 215.04l0.9 0.1M773.90 215.31l0.9 0.1M775.95 215.58l0.9 0.1M778.00 215.85l0.9 0.1M780.05 216.12l0.9 0.1" stroke="#999" stroke-width="0.7" fill="none"/>
</g>
<g fill="#fff" stroke="#1a1a1a" stroke-width="1.0" stroke-linejoin="round" stroke-linecap="round">
<path d="M766.2 156.1L772.9 158.1" stroke-width="2.1" fill="none"/>
<path d="M772.9 158.0L777.6 159.2" stroke-width="1.0" fill="none"/>
<path d="M777.6 159.2L779.6 156.4L782.2 155.5L786.8 154.2L790.2 156.4L794.0 155.2L796.5 158.9L796.0 171.6L790.2 169.3L781.9 166.4L778.7 162.4Z"/>
<path d="M779.6 156.4Q778.6 159.6 778.7 162.4M782.3 155.6Q780.4 161 781.9 166.4M790.2 156.4Q788.0 163 790.2 169.3" fill="none"/>
<path d="M796.5 158.9L804.1 155.5L832.0 163.1L831.8 167.2L833.2 171.8L833.6 178.3L820.7 177.4L796.0 171.6Z" stroke-width="1.1"/>
<path d="M802.3 156.5L828.0 163.5M796.5 158.9L823.5 165.8L832.0 163.1M796.2 163.6L821.2 170.4M797.5 173.4L814.3 176.6" fill="none" stroke-width="1.0"/>
<path d="M826.2 164.4L830.8 163.9" fill="none" stroke-width="1.9" stroke="#222"/>
<path d="M814.3 176.4L815.0 189.3L817.1 189.8L823.3 208.4Q823.0 210.8 821.0 212.0L839.5 214.4L834.6 185.6L833.6 178.3L833.2 171.8L831.8 167.2L832.0 163.1L823.5 165.8L821.2 170.4L820.9 173.0L821.9 177.4Z" stroke-width="1.1"/>
<path d="M823.5 173.2L832.3 170.9M824.4 177.8L833.2 175.5M823.5 165.8L822.9 169.6L823.5 173.2L824.4 177.8L825.8 181.0L830.0 187.5L836.1 214.4M815.7 177.4H821.9L824.4 184.3L817.5 183.6M817.5 183.6L817.1 189.8M817.5 187.5L829.5 188.4M824.4 184.3L826.3 188.0L829.7 214.4M819.0 189.2L825.0 210.1M814.3 176.4L821.9 177.4" fill="none" stroke-width="1.0"/>
<path d="M832.0 163.1L831.8 167.2L833.2 171.8L833.6 178.3L834.6 185.6L839.5 214.4" fill="none" stroke-width="1.7"/>
<path d="M813.5 214.4L815.8 212.6L821.0 212.0L829.7 214.6L839.8 212.8L842.5 213.9V233.6L829.9 238.3L813.5 234.0Z"/>
<path d="M813.5 214.4L829.7 218.6L842.5 213.9M828.8 218.4V238.0M831.0 218.2V237.8" fill="none"/>
<path d="M813.5 234.0L829.9 238.3L842.5 233.6" fill="none" stroke-width="1.5"/>
<path d="M816.0 213.4L829.6 216.8L840 213.4" fill="none" stroke-width="0.6"/>
</g>
<g font-family='"Liberation Sans", Arial, sans-serif' fill="#111" stroke="#111" stroke-width="0.3">
<text x="59.1" y="224.0" font-size="20.2">A</text>
<text x="56.7" y="272.8" font-size="41.6">B</text>
<text x="58.2" y="704.3" font-size="19.5">C</text>
<text x="149.4" y="215.5" font-size="20.5">OFF</text>
<text x="149.6" y="694.6" font-size="20.3">ON</text>
<text x="417.2" y="222.8" font-size="20">x2</text>
<text x="758.5" y="204.9" font-size="7.3" fill="#2a2a2a">x2</text>
<text x="252.1" y="185.4" font-size="33.6" clip-path="url(#c1)">1</text>
<text x="571.4" y="196.2" font-size="33.1" text-anchor="middle">2</text>
<text x="556.0" y="587.8" font-size="33.1" text-anchor="middle">3</text>
<text x="592.1" y="218.3" font-size="13">N</text>
<text x="631.2" y="218.3" font-size="13">L</text>
<text x="592.1" y="260.9" font-size="13">N</text>
<text x="631.2" y="260.9" font-size="13">L</text>
</g>
<g font-family='"Liberation Sans", Arial, sans-serif' fill="#1c1c1c" font-size="10.18">
<text x="242.9" y="676.9">Instrukcja montażu / instalation instructions / Montageanleitung</text>
<text x="242.9" y="690.7">Plafon / Ceiling lamp / Deckeleuchte</text>
</g>
<g fill="none" stroke="#444" stroke-width="1.15">
<circle cx="260.2" cy="174.1" r="17.8"/>
<circle cx="571.1" cy="184.8" r="17.9"/>
<circle cx="555.8" cy="575.8" r="17.8"/>
</g>

</svg>
</body>
</html>
